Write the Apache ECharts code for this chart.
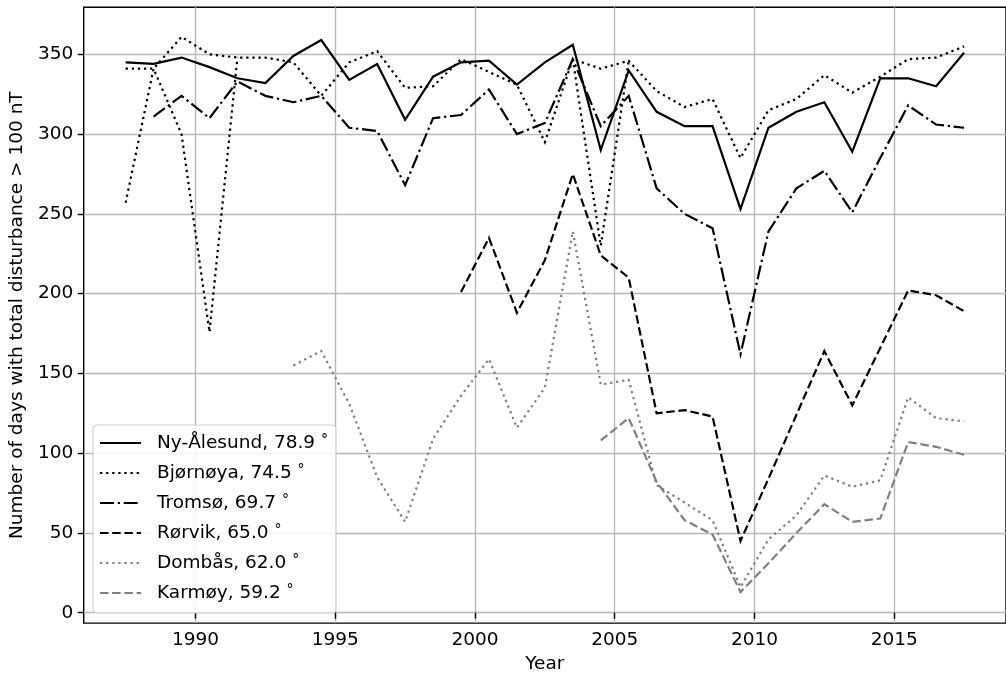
<!DOCTYPE html>
<html>
<head>
<meta charset="utf-8">
<script src="https://cdn.jsdelivr.net/npm/echarts@6/dist/echarts.min.js"></script>
<style>
html,body{margin:0;padding:0;background:#fff;}
#chart{width:1006px;height:679px;}
</style>
</head>
<body>
<div id="chart"></div>
<script>
// ---- data ----
const years = [1987.5,1988.5,1989.5,1990.5,1991.5,1992.5,1993.5,1994.5,1995.5,1996.5,
  1997.5,1998.5,1999.5,2000.5,2001.5,2002.5,2003.5,2004.5,2005.5,2006.5,
  2007.5,2008.5,2009.5,2010.5,2011.5,2012.5,2013.5,2014.5,2015.5,2016.5,2017.5];
const nyAlesund = [345,344,348,342,335,332,349,359,334,344,309,336,345,346,331,345,356,290,340,314,305,305,253,304,314,320,289,335,335,330,351];
const bjornoya = [341,341,361,350,348,348,345,324,345,352,329,330,347,339,331,295,347,341,346,327,317,322,285,315,322,337,326,336,347,348,355];
const bjornoyaAlt = [257,341,300,176,348,null,null,null,null,null,null,null,null,null,null,null,347,230,346,null,null,null,null,null,null,null,null,null,null,null,null];
const tromso = [null,311,324,310,333,324,320,324,304,302,268,310,312,328,300,307,347,305,324,266,250,241,162,239,266,277,251,285,318,306,304];
const rorvik = [null,null,null,null,null,null,null,null,null,null,null,null,201,235,188,221,275,224,210,125,127,123,45,84,124,164,130,166,202,199,189];
const dombas = [null,null,null,null,null,null,155,164,131,85,57,109,136,159,116,141,239,143,146,80,69,58,16,46,61,86,79,83,135,122,120];
const karmoy = [null,null,null,null,null,null,null,null,null,null,null,null,null,null,null,null,null,108,122,82,58,49,13,31,50,68,57,59,107,104,99];
const xTicks = [1990,1995,2000,2005,2010,2015];
const yTicks = [0,50,100,150,200,250,300,350];
const names = ['Ny-Ålesund, 78.9°','Bjørnøya, 74.5°','Tromsø, 69.7°','Rørvik, 65.0°','Dombås, 62.0°','Karmøy, 59.2°'];

const pairs = arr => years.map((y,i)=>[y, arr[i]]);
const FONT = 'DejaVu Sans';
const FS = 18.5;
const LW = 2.2;
const DOT = [2.3, 3.8];
const DASH = [8.5, 3.7];
const DASHDOT = [14, 3.7, 2.3, 3.7];

function mk(name, arr, color, type){
  return {
    name: name, type: 'line', data: pairs(arr),
    showSymbol: false, symbol: 'none', connectNulls: false,
    lineStyle: {color: color, width: LW, type: type, cap: 'butt', join: 'miter'},
    itemStyle: {color: color},
    emphasis: {disabled: true}
  };
}

const chart = echarts.init(document.getElementById('chart'), null, {renderer:'canvas'});
chart.setOption({
  animation: false,
  backgroundColor: '#ffffff',
  textStyle: {fontFamily: FONT},
  grid: {left: 82.5, top: 7.3, right: -10, bottom: 54.6, show: true,
         borderColor: '#000', borderWidth: 1.4, backgroundColor: 'transparent'},
  xAxis: {
    type: 'value', min: 1986, max: 2019,
    name: 'Year', nameLocation: 'middle', nameGap: 29,
    nameTextStyle: {fontFamily: FONT, fontSize: FS, color: '#000'},
    axisLine: {show: false},
    axisTick: {show: true, customValues: xTicks, length: 6, lineStyle: {color: '#000', width: 1.4}},
    axisLabel: {customValues: xTicks, formatter: v => String(v), fontFamily: FONT, fontSize: FS, color: '#000', margin: 8},
    splitLine: {show: true, lineStyle: {color: '#b8b8b8', width: 1.4}}
  },
  yAxis: {
    type: 'value', min: -6.5, max: 379.5,
    name: 'Number of days with total disturbance > 100 nT', nameLocation: 'middle', nameGap: 53,
    nameTextStyle: {fontFamily: FONT, fontSize: FS, color: '#000'},
    axisLine: {show: false},
    axisTick: {show: true, customValues: yTicks, length: 6, lineStyle: {color: '#000', width: 1.4}},
    axisLabel: {customValues: yTicks, formatter: v => String(v), fontFamily: FONT, fontSize: FS, color: '#000', margin: 10.5},
    splitLine: {show: true, lineStyle: {color: '#b8b8b8', width: 1.4}}
  },
  legend: {
    orient: 'vertical', left: 93, top: 425,
    padding: [7, 8, 9, 6],
    itemGap: 8, itemWidth: 41, itemHeight: 14,
    backgroundColor: 'rgba(255,255,255,0.85)',
    borderColor: '#cccccc', borderWidth: 1, borderRadius: 4,
    itemStyle: {opacity: 0},
    data: names,
    formatter: n => n.replace('°', ' {d|°}'),
    textStyle: {fontFamily: FONT, fontSize: FS, color: '#000', lineHeight: 22, padding: [0,0,0,11],
      rich: {d: {fontFamily: FONT, fontSize: 14, padding: [0,0,5,0], color: '#000'}}}
  },
  series: [
    mk(names[0], nyAlesund, '#000000', 'solid'),
    mk(names[1], bjornoya, '#000000', DOT),
    mk(names[1], bjornoyaAlt, '#000000', DOT),
    mk(names[2], tromso, '#000000', DASHDOT),
    mk(names[3], rorvik, '#000000', DASH),
    mk(names[4], dombas, '#808080', DOT),
    mk(names[5], karmoy, '#808080', DASH)
  ]
});
</script>
</body>
</html>
